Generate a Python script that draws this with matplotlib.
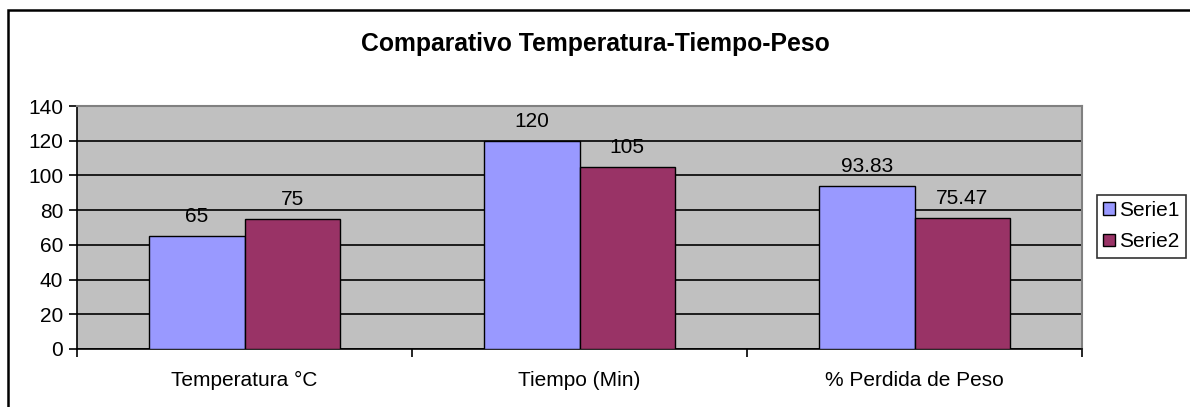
import matplotlib
matplotlib.use("Agg")
import matplotlib.pyplot as plt
import numpy as np
from matplotlib.patches import Rectangle

categories = ["Temperatura °C", "Tiempo (Min)", "% Perdida de Peso"]
serie1 = [65, 120, 93.83]
serie2 = [75, 105, 75.47]
serie1_labels = ["65", "120", "93.83"]
serie2_labels = ["75", "105", "75.47"]
series_names = ["Serie1", "Serie2"]
yticks = [0, 20, 40, 60, 80, 100, 120, 140]
title = "Comparativo Temperatura-Tiempo-Peso"

plt.rcParams['font.family'] = ['Liberation Sans', 'DejaVu Sans']

W, H = 1190, 407
fig = plt.figure(figsize=(W/100, H/100), dpi=100)
fig.patch.set_facecolor("white")

ax = fig.add_axes([77/W, 1-349/H, (1082-77)/W, (349-106)/H])
ax.set_facecolor("#C0C0C0")

FS = 15

x = np.arange(len(categories))
w = 1/3.5
b1 = ax.bar(x - w/2, serie1, w, color="#9999FF", edgecolor="black", linewidth=1.0, label=series_names[0], zorder=3)
b2 = ax.bar(x + w/2, serie2, w, color="#993366", edgecolor="black", linewidth=1.0, label=series_names[1], zorder=3)

for rect, lab in zip(b1, serie1_labels):
    ax.annotate(lab, (rect.get_x()+rect.get_width()/2, rect.get_height()), xytext=(0, 7),
                textcoords="offset points", ha="center", va="bottom", fontsize=FS, zorder=4)
for rect, lab in zip(b2, serie2_labels):
    ax.annotate(lab, (rect.get_x()+rect.get_width()/2, rect.get_height()), xytext=(0, 7),
                textcoords="offset points", ha="center", va="bottom", fontsize=FS, zorder=4)

ax.set_xlim(-0.5, len(categories)-0.5)
ax.set_ylim(0, 140)
ax.set_yticks(yticks)
ax.set_yticklabels([str(v) for v in yticks], fontsize=FS)
ax.yaxis.grid(True, color="black", linewidth=1.2, zorder=1)
ax.set_axisbelow(True)
ax.tick_params(axis="y", direction="out", length=6, width=1.2, pad=4)

ax.set_xticks(x)
ax.set_xticklabels(categories, fontsize=FS)
ax.tick_params(axis="x", which="major", length=0, pad=16)
ax.set_xticks(np.arange(-0.5, len(categories)), minor=True)
ax.tick_params(axis="x", which="minor", direction="out", length=6, width=1.2)

ax.spines["left"].set_color("black")
ax.spines["left"].set_linewidth(1.2)
ax.spines["bottom"].set_color("black")
ax.spines["bottom"].set_linewidth(1.2)
ax.spines["top"].set_color("#808080")
ax.spines["top"].set_linewidth(1.5)
ax.spines["right"].set_color("#808080")
ax.spines["right"].set_linewidth(1.5)

fig.text(0.5, 1-44/H, title, ha="center", va="center", fontsize=17.8, fontweight="bold")

leg = fig.legend(handles=[b1, b2], labels=series_names, loc="center left",
                 bbox_to_anchor=(1097/W, 1-226/H), fontsize=FS, frameon=True, fancybox=False,
                 edgecolor="black", handlelength=0.55, handleheight=0.55, handletextpad=0.2,
                 borderpad=0.3, labelspacing=0.6, borderaxespad=0)
leg.get_frame().set_linewidth(1.2)

border = Rectangle((8/W, -0.5), 2.0, 1.5 - 10/H, transform=fig.transFigure,
                   fill=False, edgecolor="black", linewidth=1.8, clip_on=False)
fig.patches.append(border)

fig.savefig("out.png", dpi=100)
